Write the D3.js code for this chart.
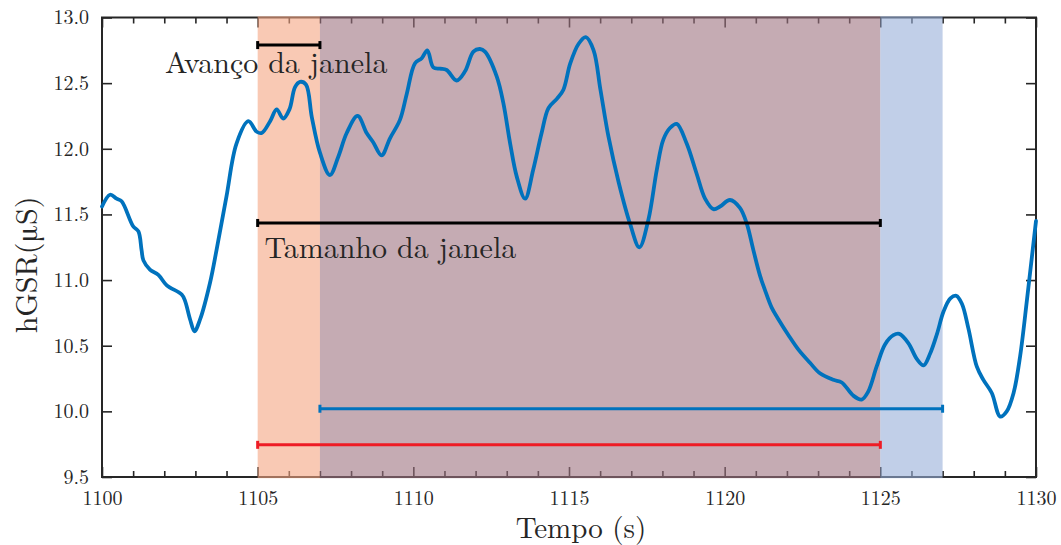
<!DOCTYPE html>
<html>
<head>
<meta charset="utf-8">
<script src="https://cdn.jsdelivr.net/npm/d3@7"></script>
<style>
  html, body { margin: 0; padding: 0; background: #fff; }
  svg { display: block; }
</style>
</head>
<body>
<svg id="chart" width="1061" height="545"></svg>
<script>
// Sample times (s) and hGSR values (µS)
const time = [
  1100.00, 1100.26, 1100.47, 1100.63, 1101.00, 1101.17, 1101.27, 1101.33, 1101.54, 1101.81,
  1102.08, 1102.56, 1102.67, 1102.83, 1102.97, 1103.15, 1103.47, 1103.68, 1104.00, 1104.32,
  1104.70, 1104.97, 1105.13, 1105.40, 1105.61, 1105.82, 1106.02, 1106.20, 1106.36, 1106.55,
  1106.74, 1107.00, 1107.32, 1107.59, 1107.86, 1108.21, 1108.50, 1108.71, 1108.98, 1109.25,
  1109.57, 1109.79, 1110.05, 1110.27, 1110.45, 1110.64, 1110.86, 1111.07, 1111.39, 1111.66,
  1111.93, 1112.14, 1112.30, 1112.68, 1112.89, 1113.11, 1113.32, 1113.59, 1113.85, 1114.12,
  1114.34, 1114.61, 1114.82, 1115.04, 1115.31, 1115.54, 1115.79, 1116.01, 1116.27, 1116.60,
  1116.96, 1117.26, 1117.55, 1117.82, 1118.03, 1118.25, 1118.46, 1118.78, 1119.10, 1119.37,
  1119.64, 1119.85, 1120.17, 1120.49, 1120.71, 1120.92, 1121.14, 1121.30, 1121.51, 1121.73,
  1122.05, 1122.37, 1122.74, 1123.06, 1123.49, 1123.76, 1124.13, 1124.40, 1124.61, 1124.88,
  1125.15, 1125.42, 1125.61, 1125.90, 1126.17, 1126.39, 1126.60, 1126.82, 1127.03, 1127.25,
  1127.44, 1127.62, 1127.83, 1128.10, 1128.31, 1128.58, 1128.85, 1129.06, 1129.28, 1129.49,
  1129.71, 1129.87, 1130.00
];
const gsr = [
  11.56, 11.65, 11.62, 11.60, 11.41, 11.37, 11.23, 11.15, 11.08, 11.04,
  10.96, 10.89, 10.84, 10.70, 10.61, 10.70, 10.98, 11.23, 11.64, 12.04,
  12.21, 12.13, 12.12, 12.21, 12.30, 12.23, 12.30, 12.47, 12.51, 12.49,
  12.24, 11.97, 11.80, 11.94, 12.12, 12.25, 12.12, 12.05, 11.95, 12.08,
  12.22, 12.42, 12.65, 12.69, 12.75, 12.62, 12.61, 12.60, 12.52, 12.59,
  12.74, 12.76, 12.74, 12.55, 12.35, 12.04, 11.79, 11.62, 11.84, 12.12,
  12.31, 12.38, 12.45, 12.65, 12.80, 12.85, 12.75, 12.45, 12.09, 11.74,
  11.43, 11.25, 11.46, 11.84, 12.07, 12.16, 12.19, 12.04, 11.81, 11.62,
  11.54, 11.56, 11.61, 11.55, 11.43, 11.23, 11.03, 10.92, 10.79, 10.70,
  10.58, 10.47, 10.37, 10.29, 10.24, 10.22, 10.12, 10.09, 10.15, 10.34,
  10.51, 10.58, 10.59, 10.52, 10.40, 10.35, 10.44, 10.59, 10.76, 10.86,
  10.88, 10.82, 10.63, 10.34, 10.24, 10.14, 9.96, 10.00, 10.14, 10.42,
  10.85, 11.18, 11.45
];

// Shaded windows
const windowStart = [1105, 1107, 1125];
const windowEnd   = [1107, 1125, 1127];
const windowFill  = ["#f5a582", "#9e7380", "#98afd9"];

// Interval bars
const barStart = [1105, 1105, 1107, 1105];
const barEnd   = [1107, 1125, 1127, 1125];
const barLevel = [12.79, 11.435, 10.02, 9.745];
const barColor = ["#000000", "#000000", "#0072bd", "#ee1c25"];

// Axis ticks and labels
const xMajor = [1100, 1105, 1110, 1115, 1120, 1125, 1130];
const xMinor = d3.range(1100, 1131).filter(v => v % 5 !== 0);
const yTicks = [9.5, 10.0, 10.5, 11.0, 11.5, 12.0, 12.5, 13.0];

const xLabel = "Tempo (s)";
const yLabel = "hGSR(\u03bcS)";
const notes = [
  { text: "Avan\u00e7o da janela", t: 1102.02, v: 12.577 },
  { text: "Tamanho da janela", t: 1105.22, v: 11.168 }
];

const textFont = "'CMU Serif', 'Latin Modern Roman', 'TeX Gyre Termes', 'Nimbus Roman', 'FreeSerif', 'Liberation Serif', 'DejaVu Serif', serif";

const svg = d3.select("#chart");
const plotLeft = 102, plotRight = 1036, plotTop = 17.5, plotBottom = 477;

const x = d3.scaleLinear().domain([1100, 1130]).range([plotLeft, plotRight]);
const y = d3.scaleLinear().domain([9.5, 13.0]).range([plotBottom, plotTop]);

const axisColor = "#262626";

// Frame
svg.append("rect")
  .attr("x", plotLeft).attr("y", plotTop)
  .attr("width", plotRight - plotLeft).attr("height", plotBottom - plotTop)
  .attr("fill", "none").attr("stroke", axisColor).attr("stroke-width", 2);

function styleAxis(g) {
  g.attr("font-family", null).attr("font-size", null);
  g.select(".domain").remove();
  g.selectAll(".tick line").attr("stroke", axisColor).attr("stroke-width", 1.6);
  g.selectAll(".tick text")
    .style("font-family", textFont)
    .style("font-size", "20px")
    .attr("fill", axisColor);
}

// Bottom axis with labels
svg.append("g").attr("transform", `translate(0,${plotBottom})`)
  .call(d3.axisBottom(x).tickValues(xMajor).tickFormat(d3.format("d"))
    .tickSizeInner(-10).tickSizeOuter(0).tickPadding(14))
  .call(styleAxis);
svg.append("g").attr("transform", `translate(0,${plotBottom})`)
  .call(d3.axisBottom(x).tickValues(xMinor).tickFormat("")
    .tickSizeInner(-6).tickSizeOuter(0))
  .call(styleAxis);
// Top axis (ticks only)
svg.append("g").attr("transform", `translate(0,${plotTop})`)
  .call(d3.axisTop(x).tickValues(xMajor).tickFormat("")
    .tickSizeInner(-10).tickSizeOuter(0))
  .call(styleAxis);
svg.append("g").attr("transform", `translate(0,${plotTop})`)
  .call(d3.axisTop(x).tickValues(xMinor).tickFormat("")
    .tickSizeInner(-6).tickSizeOuter(0))
  .call(styleAxis);
// Left axis with labels
svg.append("g").attr("transform", `translate(${plotLeft},0)`)
  .call(d3.axisLeft(y).tickValues(yTicks).tickFormat(d3.format(".1f"))
    .tickSizeInner(-10).tickSizeOuter(0).tickPadding(13))
  .call(styleAxis);
// Right axis (ticks only)
svg.append("g").attr("transform", `translate(${plotRight},0)`)
  .call(d3.axisRight(y).tickValues(yTicks).tickFormat("")
    .tickSizeInner(-10).tickSizeOuter(0))
  .call(styleAxis);

// Shaded windows, translucent over the frame and ticks
svg.append("g").selectAll("rect")
  .data(windowStart.map((s, i) => ({ s, e: windowEnd[i], c: windowFill[i] })))
  .join("rect")
  .attr("x", d => x(d.s))
  .attr("width", d => x(d.e) - x(d.s))
  .attr("y", plotTop - 1.2)
  .attr("height", plotBottom - plotTop + 2.4)
  .attr("fill", d => d.c)
  .attr("fill-opacity", 0.6);

// Signal
const data = time.map((t, i) => ({ t, v: gsr[i] }));
svg.append("path")
  .datum(data)
  .attr("fill", "none")
  .attr("stroke", "#0072bd")
  .attr("stroke-width", 3.8)
  .attr("stroke-linejoin", "round")
  .attr("stroke-linecap", "round")
  .attr("d", d3.line().x(d => x(d.t)).y(d => y(d.v)).curve(d3.curveCatmullRom.alpha(0.5)));

// Interval bars with end caps
const bars = barStart.map((s, i) => ({ s, e: barEnd[i], v: barLevel[i], c: barColor[i] }));
const bg = svg.append("g").selectAll("g").data(bars).join("g");
bg.append("line")
  .attr("x1", d => x(d.s)).attr("x2", d => x(d.e))
  .attr("y1", d => y(d.v)).attr("y2", d => y(d.v))
  .attr("stroke", d => d.c).attr("stroke-width", 3);
bg.selectAll(".cap")
  .data(d => [{ p: d.s, v: d.v, c: d.c }, { p: d.e, v: d.v, c: d.c }])
  .join("line")
  .attr("class", "cap")
  .attr("x1", d => x(d.p)).attr("x2", d => x(d.p))
  .attr("y1", d => y(d.v) - 4).attr("y2", d => y(d.v) + 4)
  .attr("stroke", d => d.c).attr("stroke-width", 3);

// Annotations
svg.append("g").selectAll("text").data(notes).join("text")
  .attr("x", d => x(d.t)).attr("y", d => y(d.v))
  .style("font-family", textFont)
  .style("font-size", "30px")
  .attr("fill", "#262626")
  .text(d => d.text);

// Axis titles
svg.append("text")
  .attr("x", (plotLeft + plotRight) / 2 + 12).attr("y", 538)
  .attr("text-anchor", "middle")
  .style("font-family", textFont)
  .style("font-size", "29px")
  .attr("fill", "#262626")
  .text(xLabel);
svg.append("text")
  .attr("transform", `translate(37,265) rotate(-90)`)
  .attr("text-anchor", "middle")
  .style("font-family", textFont)
  .style("font-size", "30px")
  .attr("fill", "#262626")
  .text(yLabel);
</script>
</body>
</html>
